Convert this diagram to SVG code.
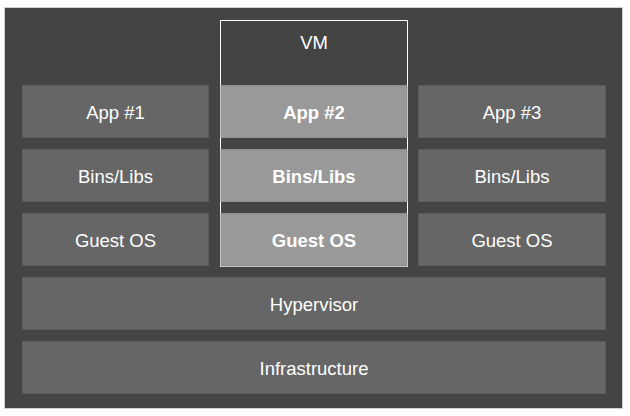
<svg xmlns="http://www.w3.org/2000/svg" width="630" height="416" viewBox="0 0 630 416">
<style>
.bg{fill:#444444;stroke:#d0d0d0;stroke-width:1}
.box{fill:#666666;stroke:#5c5c5c;stroke-width:1}
.vmb{fill:#999999;stroke:#8f8f8f;stroke-width:1}
.t{font-family:"Liberation Sans",Arial,sans-serif;font-size:18.5px;fill:#ffffff;text-anchor:middle;dominant-baseline:central}
.b{font-weight:bold}
</style>
<rect width="630" height="416" fill="#ffffff"/>
<rect class="bg" x="4.5" y="7.5" width="618" height="401"/>
<g id="vm">
<rect x="220.5" y="20.5" width="187" height="246" fill="#444444" stroke="#ffffff" stroke-width="1"/>
<text class="t" x="314" y="42">VM</text>
</g>
<g id="app1"><rect class="box" x="22.5" y="85.5" width="186" height="52"/><text class="t" x="115.5" y="112">App #1</text></g>
<g id="app2"><rect class="vmb" x="221" y="85.5" width="186" height="52"/><text class="t b" x="314" y="112">App #2</text></g>
<g id="app3"><rect class="box" x="418.5" y="85.5" width="187" height="52"/><text class="t" x="512" y="112">App #3</text></g>
<g id="bins1"><rect class="box" x="22.5" y="149.5" width="186" height="52"/><text class="t" x="115.5" y="176">Bins/Libs</text></g>
<g id="bins2"><rect class="vmb" x="221" y="149.5" width="186" height="52"/><text class="t b" x="314" y="176">Bins/Libs</text></g>
<g id="bins3"><rect class="box" x="418.5" y="149.5" width="187" height="52"/><text class="t" x="512" y="176">Bins/Libs</text></g>
<g id="os1"><rect class="box" x="22.5" y="213.5" width="186" height="52"/><text class="t" x="115.5" y="240">Guest OS</text></g>
<g id="os2"><rect class="vmb" x="221" y="213.5" width="186" height="52.5"/><text class="t b" x="314" y="240">Guest OS</text></g>
<g id="os3"><rect class="box" x="418.5" y="213.5" width="187" height="52"/><text class="t" x="512" y="240">Guest OS</text></g>
<g id="hypervisor"><rect class="box" x="22.5" y="277.5" width="583" height="52"/><text class="t" x="314" y="304">Hypervisor</text></g>
<g id="infrastructure"><rect class="box" x="22.5" y="341.5" width="583" height="52"/><text class="t" x="314" y="368">Infrastructure</text></g>
<g id="connectors"></g>
</svg>
